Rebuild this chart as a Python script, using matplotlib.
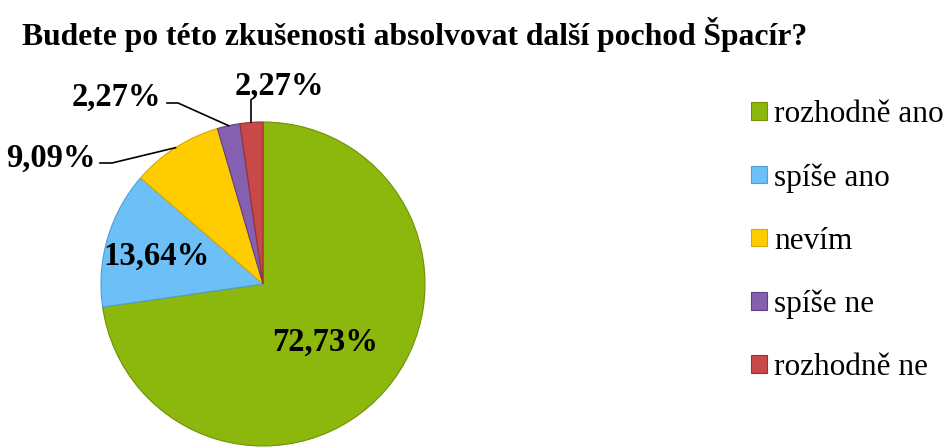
import matplotlib.pyplot as plt
import numpy as np
from matplotlib.patches import Patch

plt.rcParams["font.family"] = ["Liberation Serif", "DejaVu Serif"]

title = "Budete po této zkušenosti absolvovat další pochod Špacír?"
categories = ["rozhodně ano", "spíše ano", "nevím", "spíše ne", "rozhodně ne"]
values = [72.73, 13.64, 9.09, 2.27, 2.27]
colors = ["#8cb70c", "#6dbff7", "#ffcc00", "#8560b0", "#c9494a"]
edges = ["#6f9108", "#4f9fd6", "#d9a800", "#5e3f85", "#9a3030"]

W, H = 950, 448
cx, cy, R = 263, 164, 162  # pie centre (px from bottom-left) and radius

fig = plt.figure(figsize=(W / 100, H / 100), dpi=100)
ax = fig.add_axes([0, 0, 1, 1])

wedges, _ = ax.pie(values, colors=colors, startangle=90, counterclock=False,
                   radius=1, center=(0, 0), frame=True,
                   wedgeprops=dict(linewidth=0.8))
for w, e in zip(wedges, edges):
    w.set_edgecolor(e)
ax.set_xlim(-cx / R, (W - cx) / R)
ax.set_ylim(-cy / R, (H - cy) / R)
ax.set_aspect("equal")
ax.axis("off")


def px(x, y_top):
    return (x - cx) / R, ((H - y_top) - cy) / R


def fmt(v):
    return f"{v:.2f}%".replace(".", ",")


mids = [np.deg2rad((w.theta1 + w.theta2) / 2) for w in wedges]

lab = dict(fontsize=23.5, fontweight="bold", color="black")

# inside labels
ax.text(*px(325, 342), fmt(values[0]), ha="center", va="center", **lab)
ax.text(*px(156, 256), fmt(values[1]), ha="center", va="center", **lab)

# outside labels with leader lines
x0, y0 = np.cos(mids[2]), np.sin(mids[2])
ax.plot([x0, px(112, 163)[0], px(100, 163)[0]], [y0, px(112, 163)[1], px(100, 163)[1]],
        color="black", lw=1.2)
ax.text(*px(96, 158), fmt(values[2]), ha="right", va="center", **lab)

x0, y0 = np.cos(mids[3]), np.sin(mids[3])
ax.plot([x0, px(178, 103)[0], px(167, 103)[0]], [y0, px(178, 103)[1], px(167, 103)[1]],
        color="black", lw=1.2)
ax.text(*px(161, 97), fmt(values[3]), ha="right", va="center", **lab)

x0, y0 = np.cos(mids[4]), np.sin(mids[4])
ax.plot([x0, x0], [y0, px(252, 100)[1]], color="black", lw=1.2)
ax.text(*px(279, 86), fmt(values[4]), ha="center", va="center", **lab)

ax.text(*px(415, 35), title, ha="center", va="center", fontsize=22.8, fontweight="bold")

handles = [Patch(facecolor=c, edgecolor=e, linewidth=0.8) for c, e in zip(colors, edges)]
fig.legend(handles, categories, loc="upper left", bbox_to_anchor=(751 / W, 1 - 100 / H),
           frameon=False, fontsize=22.5, handlelength=0.5, handleheight=0.5,
           handletextpad=0.25, labelspacing=1.09, borderaxespad=0, borderpad=0)

fig.savefig("out.png", dpi=100)
